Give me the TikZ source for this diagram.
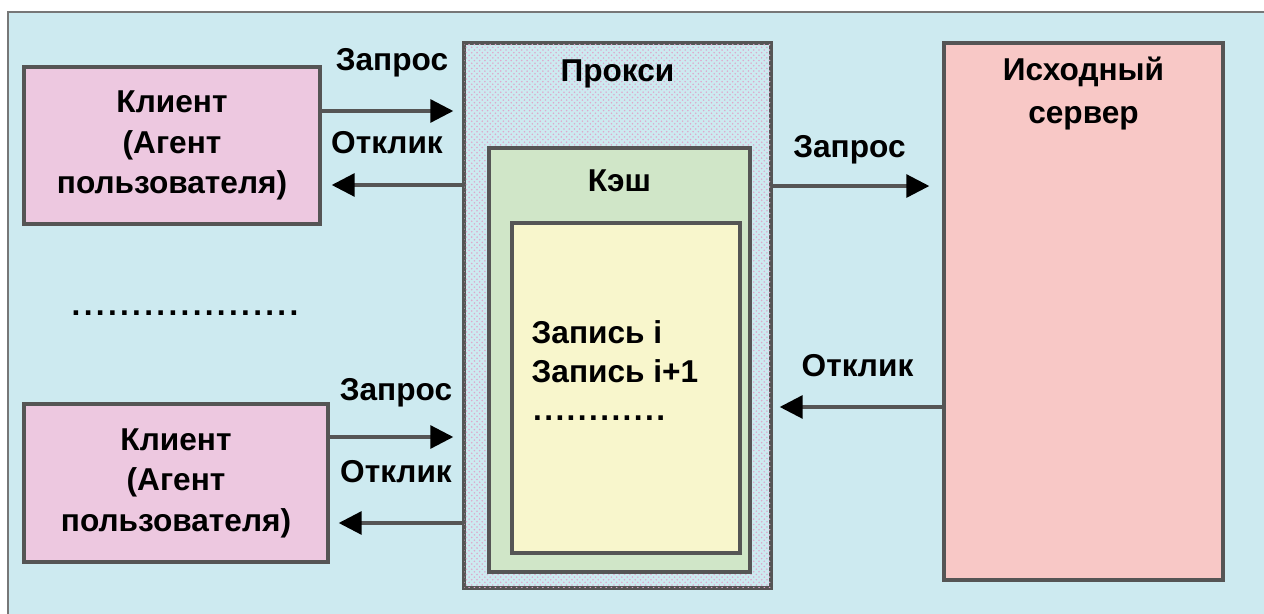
\documentclass[tikz,border=0pt]{standalone}
\usepackage{fontspec}
\setmainfont{Liberation Sans}
\usepackage{tikz}
\usetikzlibrary{positioning, arrows.meta, patterns}

\definecolor{bgblue}{HTML}{CDEAF0}
\definecolor{clientpink}{HTML}{EDC8E0}
\definecolor{cachegreen}{HTML}{D0E6C8}
\definecolor{recyellow}{HTML}{F8F6CC}
\definecolor{serverrose}{HTML}{F8C8C6}
\definecolor{edgegray}{HTML}{555555}
\definecolor{dotpink}{HTML}{DDA8CC}

\newcommand{\dotrow}[2]{\hbox to #1{\xleaders\hbox to #2{\hss.\hss}\hfill}}

\begin{document}
\begin{tikzpicture}[x=0.02cm, y=-0.02cm, node distance=1cm, font=\fontsize{18}{23}\selectfont\bfseries]
    \tikzstyle{block} = [rectangle, draw=edgegray, line width=2pt, inner sep=0pt]
    \tikzstyle{pinkblock} = [block, fill=clientpink, align=center, minimum height=3.14cm]
    \tikzstyle{proxyblock} = [block, fill=bgblue, postaction={pattern=crosshatch dots, pattern color=dotpink}]
    \tikzstyle{greenblock} = [block, fill=cachegreen]
    \tikzstyle{yellowblock} = [block, fill=recyellow]
    \tikzstyle{roseblock} = [block, fill=serverrose]
    \tikzstyle{arrow} = [line width=1.8pt, draw=edgegray, -{Triangle[length=13pt, width=13pt, black]}]
    \tikzstyle{lbl} = [inner sep=0pt]

    \useasboundingbox (0,0) rectangle (1264,614);
    \fill[bgblue] (8,12) rectangle (1264,614);
    \draw[edgegray!80, line width=1.2pt] (1270,12) -- (8,12) -- (8,620);

    \node [pinkblock, minimum width=5.92cm] (client1) at (172,145.5) {Клиент\\(Агент\\пользователя)};
    \node [pinkblock, minimum width=6.08cm, minimum height=3.16cm] (client2) at (176,483) {Клиент\\(Агент\\пользователя)};
    \node [lbl] (moreclients) at (185,313) {\dotrow{4.6cm}{0.24cm}};

    \node [proxyblock, minimum width=6.14cm, minimum height=10.9cm] (proxy) at (617.5,315.5) {};
    \node [lbl, anchor=base] (proxytxt) at ([yshift=-0.8cm]proxy.north) {Прокси};
    \node [greenblock, minimum width=5.22cm, minimum height=8.48cm] (cache) at (619.5,360) {};
    \node [lbl, anchor=base] (cachetxt) at ([yshift=-0.9cm]cache.north) {Кэш};
    \node [yellowblock, minimum width=4.56cm, minimum height=6.6cm] (records) at (626,388) {};
    \node [lbl, anchor=north west, align=left, font=\fontsize{18}{22}\selectfont\bfseries] (rectxt) at ([xshift=0.42cm, yshift=-1.98cm]records.north west) {Запись i\\Запись i+1\\\dotrow{2.7cm}{0.21cm}};

    \node [roseblock, minimum width=5.58cm, minimum height=10.74cm] (server) at (1083.5,311.5) {};
    \node [lbl, anchor=north, align=center, font=\fontsize{18}{24.4}\selectfont\bfseries] (servertxt) at ([yshift=-0.3cm]server.north) {Исходный\\сервер};

    \coordinate (c1req) at ([yshift=0.69cm]client1.east);
    \coordinate (c1resp) at ([yshift=-0.79cm]client1.east);
    \coordinate (c2req) at ([yshift=0.92cm]client2.east);
    \coordinate (c2resp) at ([yshift=-0.8cm]client2.east);
    \coordinate (preq) at ([yshift=2.59cm]proxy.east);
    \coordinate (sresp) at ([yshift=-1.91cm]server.west);

    \draw [arrow, shorten >=0.18cm] (c1req) -- node [lbl, yshift=0.96cm] {Запрос} (c1req -| proxy.west);
    \draw [arrow, shorten >=0.2cm] (c1resp -| proxy.west) -- node [lbl, yshift=0.84cm, xshift=-0.1cm] {Отклик} (c1resp);
    \draw [arrow, shorten >=0.18cm] (c2req) -- node [lbl, yshift=0.88cm] {Запрос} (c2req -| proxy.west);
    \draw [arrow, shorten >=0.18cm] (c2resp -| proxy.west) -- node [lbl, yshift=1.02cm] {Отклик} (c2resp);
    \draw [arrow, shorten >=0.26cm] (preq) -- node [lbl, yshift=0.72cm, xshift=-0.16cm] {Запрос} (preq -| server.west);
    \draw [arrow, shorten >=0.14cm] (sresp) -- node [lbl, yshift=0.82cm] {Отклик} (sresp -| proxy.east);
\end{tikzpicture}
\end{document}
